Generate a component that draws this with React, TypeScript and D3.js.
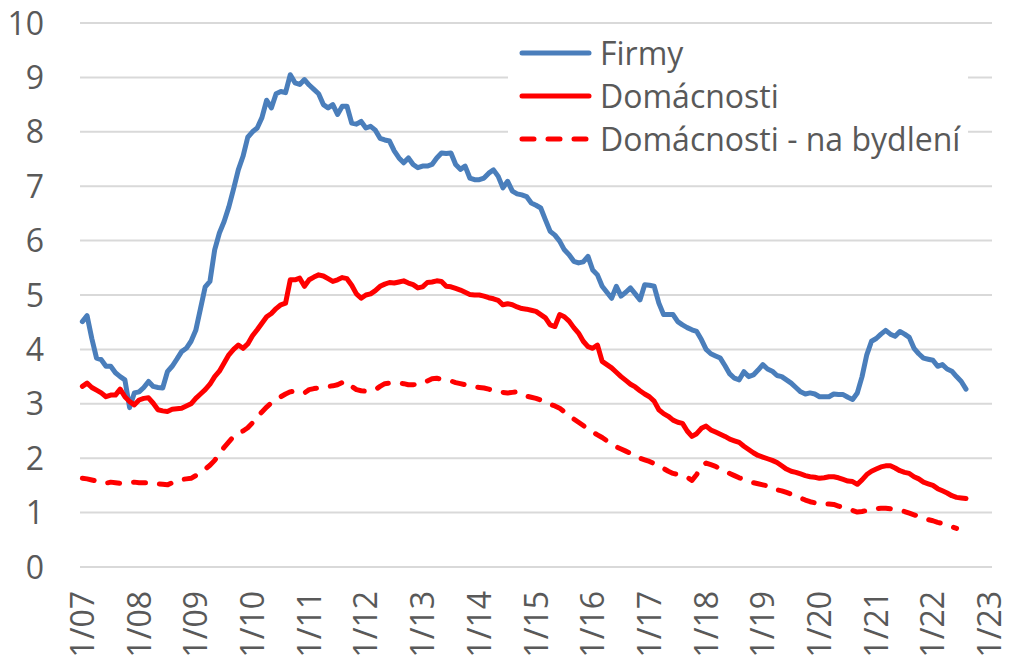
import React, { useEffect } from "react";
import * as d3 from "d3";

// monthly values, index 0 = 1/07
const firmy = [
  4.51, 4.62, 4.2, 3.84, 3.81, 3.69, 3.69, 3.57, 3.5, 3.44, 2.93, 3.2,
  3.22, 3.3, 3.41, 3.32, 3.3, 3.29, 3.59, 3.69, 3.82, 3.96, 4.02, 4.15,
  4.35, 4.75, 5.15, 5.25, 5.83, 6.14, 6.35, 6.62, 6.95, 7.3, 7.55, 7.9,
  8.0, 8.07, 8.26, 8.58, 8.44, 8.7, 8.74, 8.72, 9.05, 8.9, 8.87, 8.96,
  8.86, 8.78, 8.7, 8.5, 8.44, 8.5, 8.32, 8.47, 8.47, 8.16, 8.14, 8.19,
  8.07, 8.1, 8.03, 7.88, 7.85, 7.83, 7.65, 7.52, 7.43, 7.52, 7.4, 7.34,
  7.37, 7.37, 7.4, 7.52, 7.61, 7.6, 7.61, 7.4, 7.31, 7.37, 7.15, 7.12,
  7.12, 7.15, 7.24, 7.3, 7.18, 6.97, 7.09, 6.91, 6.86, 6.84, 6.81, 6.69,
  6.65, 6.6, 6.38, 6.17, 6.1, 5.99, 5.83, 5.74, 5.62, 5.59, 5.61, 5.71,
  5.46, 5.37, 5.16, 5.05, 4.94, 5.16, 4.98, 5.05, 5.13, 5.02, 4.91, 5.19,
  5.18, 5.16, 4.85, 4.64, 4.64, 4.64, 4.51, 4.45, 4.4, 4.36, 4.33, 4.18,
  4.0, 3.92, 3.88, 3.84, 3.7, 3.55, 3.47, 3.44, 3.59, 3.5, 3.53, 3.62,
  3.72, 3.64, 3.6, 3.52, 3.5, 3.44, 3.38, 3.3, 3.22, 3.18, 3.2, 3.18,
  3.13, 3.13, 3.13, 3.18, 3.17, 3.17, 3.12, 3.08, 3.2, 3.5, 3.9, 4.15,
  4.2, 4.28, 4.35, 4.28, 4.24, 4.33, 4.28, 4.22, 4.02, 3.92, 3.84, 3.82,
  3.8, 3.69, 3.72, 3.64, 3.6, 3.5, 3.41, 3.27,
];

const domacnosti = [
  3.32, 3.38, 3.3, 3.25, 3.2, 3.13, 3.16, 3.16, 3.27, 3.13, 3.04, 2.98,
  3.07, 3.1, 3.11, 3.01, 2.89, 2.87, 2.86, 2.9, 2.91, 2.92, 2.96, 3.0,
  3.1, 3.18, 3.26, 3.36, 3.5, 3.6, 3.75, 3.9, 4.0, 4.08, 4.02, 4.1,
  4.25, 4.36, 4.48, 4.6, 4.66, 4.75, 4.82, 4.85, 5.28, 5.28, 5.31, 5.16,
  5.28, 5.33, 5.37, 5.35, 5.3, 5.25, 5.28, 5.32, 5.3, 5.18, 5.02, 4.94,
  5.0, 5.02, 5.08, 5.16, 5.2, 5.23, 5.22, 5.24, 5.26, 5.22, 5.19, 5.13,
  5.15, 5.23, 5.24, 5.26, 5.25, 5.16, 5.15, 5.12, 5.09, 5.05, 5.01, 5.0,
  5.0, 4.98, 4.95, 4.93, 4.9, 4.82, 4.84, 4.82, 4.78, 4.75, 4.74, 4.72,
  4.7, 4.64, 4.58, 4.45, 4.42, 4.64, 4.6, 4.52, 4.4, 4.3, 4.15, 4.05,
  4.02, 4.08, 3.78, 3.72, 3.66, 3.58, 3.5, 3.43, 3.36, 3.31, 3.24, 3.18,
  3.13, 3.05, 2.89, 2.82, 2.77, 2.7, 2.66, 2.64, 2.5, 2.4, 2.45, 2.55,
  2.59, 2.52, 2.48, 2.44, 2.4, 2.35, 2.32, 2.29, 2.22, 2.16, 2.1, 2.05,
  2.02, 1.99, 1.96, 1.92, 1.86, 1.8, 1.76, 1.74, 1.71, 1.68, 1.66, 1.65,
  1.63, 1.64, 1.66, 1.66, 1.64, 1.61, 1.58, 1.57, 1.52, 1.6, 1.7, 1.76,
  1.8, 1.84, 1.86, 1.86, 1.82, 1.77, 1.74, 1.72, 1.66, 1.62, 1.56, 1.53,
  1.5, 1.44, 1.4, 1.36, 1.31, 1.28, 1.27, 1.26,
];

const naBydleni = [
  1.63, 1.62, 1.6, 1.58, 1.55, 1.54, 1.56, 1.55, 1.54, 1.55, 1.55, 1.56,
  1.55, 1.55, 1.55, 1.55, 1.53, 1.52, 1.51, 1.55, 1.59, 1.61, 1.62, 1.63,
  1.68, 1.73, 1.8, 1.87, 1.96, 2.08, 2.2, 2.3, 2.4, 2.46, 2.5, 2.56,
  2.65, 2.76, 2.85, 2.94, 3.02, 3.08, 3.13, 3.18, 3.22, 3.24, 3.21, 3.2,
  3.26, 3.28, 3.29, 3.3, 3.32, 3.33, 3.35, 3.39, 3.41, 3.32, 3.26, 3.24,
  3.23, 3.24, 3.26, 3.32, 3.37, 3.38, 3.38, 3.38, 3.37, 3.35, 3.35, 3.36,
  3.37, 3.42, 3.46, 3.47, 3.45, 3.44, 3.42, 3.39, 3.37, 3.35, 3.32, 3.31,
  3.3, 3.29, 3.27, 3.24, 3.22, 3.21, 3.2, 3.21, 3.22, 3.18, 3.14, 3.12,
  3.1, 3.07, 3.04, 2.99, 2.96, 2.92, 2.85, 2.78, 2.72, 2.66, 2.6, 2.54,
  2.48, 2.43, 2.38, 2.32, 2.27, 2.21, 2.17, 2.13, 2.09, 2.04, 2.0, 1.97,
  1.94, 1.9, 1.86, 1.81, 1.76, 1.72, 1.7, 1.68, 1.65, 1.59, 1.7, 1.85,
  1.91, 1.88, 1.85, 1.8, 1.76, 1.72, 1.68, 1.64, 1.61, 1.58, 1.55, 1.53,
  1.51, 1.49, 1.47, 1.42, 1.4, 1.37, 1.34, 1.3, 1.27, 1.23, 1.2, 1.18,
  1.16, 1.16, 1.16, 1.15, 1.12, 1.09, 1.07, 1.04, 1.01, 1.02, 1.04, 1.06,
  1.07, 1.08, 1.08, 1.07, 1.06, 1.04, 1.02, 0.99, 0.96, 0.93, 0.9, 0.87,
  0.85, 0.82, 0.8, 0.77, 0.74, 0.71,
];

const monthCount = 193; // 1/07 .. 1/23
const yearLabels = [
  "1/07", "1/08", "1/09", "1/10", "1/11", "1/12", "1/13", "1/14", "1/15",
  "1/16", "1/17", "1/18", "1/19", "1/20", "1/21", "1/22", "1/23",
];
const yTicks = [0, 1, 2, 3, 4, 5, 6, 7, 8, 9, 10];

const seriesNames = ["Firmy", "Domácnosti", "Domácnosti - na bydlení"];

const BLUE = "#4a7ebb";
const RED = "#ff0000";
const TEXT = "#595959";
const GRID = "#d9d9d9";
const FONT = "'Open Sans', Lato, sans-serif";

const width = 1009;
const height = 664;
const plot = { left: 80, right: 992, top: 23, bottom: 567 };

export default function App() {
  useEffect(() => {
    document.body.style.margin = "0";
  }, []);

  const x = d3
    .scaleLinear()
    .domain([-0.5, monthCount - 0.5])
    .range([plot.left, plot.right]);
  const y = d3.scaleLinear().domain([0, 10]).range([plot.bottom, plot.top]);

  const line = d3
    .line<number>()
    .x((_, i) => x(i))
    .y((d) => y(d));

  const series = [
    { name: seriesNames[0], values: firmy, color: BLUE, dash: undefined },
    { name: seriesNames[1], values: domacnosti, color: RED, dash: undefined },
    { name: seriesNames[2], values: naBydleni, color: RED, dash: "12 14" },
  ];

  const legend = { x: 508, y: 31, w: 460, h: 134, row: 43 };

  return (
    <svg width={width} height={height} style={{ display: "block" }}>
      <rect width={width} height={height} fill="white" />
      {yTicks.map((t) => (
        <g key={t}>
          <line
            x1={plot.left}
            x2={plot.right}
            y1={y(t)}
            y2={y(t)}
            stroke={GRID}
            strokeWidth={2}
          />
          <text
            x={44}
            y={y(t)}
            dy="0.36em"
            textAnchor="end"
            fontFamily={FONT}
            fontSize={32}
            fill={TEXT}
          >
            {t}
          </text>
        </g>
      ))}
      {yearLabels.map((lab, i) => {
        const px = x(i * 12);
        return (
          <text
            key={lab}
            transform={`translate(${px},591) rotate(-90)`}
            dy="0.36em"
            textAnchor="end"
            fontFamily={FONT}
            fontSize={32}
            fill={TEXT}
          >
            {lab}
          </text>
        );
      })}
      <rect
        x={legend.x}
        y={legend.y}
        width={legend.w}
        height={legend.h}
        fill="white"
      />
      {series.map((s) => (
        <path
          key={s.name}
          d={line(s.values) ?? ""}
          fill="none"
          stroke={s.color}
          strokeWidth={5}
          strokeLinejoin="round"
          strokeLinecap="round"
          strokeDasharray={s.dash}
        />
      ))}
      {series.map((s, i) => {
        const ly = 53 + i * legend.row;
        return (
          <g key={s.name}>
            <line
              x1={522}
              x2={589}
              y1={ly}
              y2={ly}
              stroke={s.color}
              strokeWidth={5}
              strokeLinecap="round"
              strokeDasharray={s.dash}
            />
            <text
              x={600}
              y={ly}
              dy="0.36em"
              fontFamily={FONT}
              fontSize={32}
              fill={TEXT}
            >
              {s.name}
            </text>
          </g>
        );
      })}
    </svg>
  );
}
